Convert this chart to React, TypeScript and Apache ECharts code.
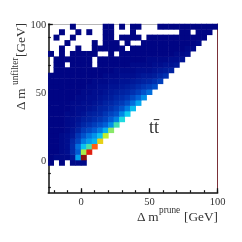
import React, { useEffect, useRef } from "react";
import * as echarts from "echarts";

const n = null;
const binLabels = Array.from({ length: 31 }, (_, i) => String(-24 + 4 * i));
const firstRowIndex = 5;
// Each row: colour level per 4 GeV bin, from x = -24 upward; rows go from y = -4 upward.
const levelRows: (number | null)[][] = [
  [1, n, 1, n, 2, 2, 2],
  [1, 2, 2, 2, 5, 30, 100],
  [1, 1, 2, 3, 9, 19, 58, 90],
  [1, 1, 2, 3, 9, 22, 36, 50, 80],
  [1, 1, 2, 3, 8, 14, 24, 29, 34, 68],
  [1, 1, 2, 3, 5, 11, 17, 23, 28, 36, 60],
  [1, 1, 1, 2, 4, 7, 12, 15, 19, 24, 33, 55],
  [1, 1, 1, 2, 3, 5, 8, 10, 13, 16, 20, 27, 48],
  [1, 1, 1, 2, 3, 4, 6, 7, 9, 11, 14, 19, 25, 42],
  [1, 1, 1, 2, 2, 3, 4, 6, 7, 8, 11, 14, 17, 26, 38],
  [1, 1, 1, 1, 2, 3, 3, 4, 5, 7, 8, 10, 13, 17, 24, 35],
  [1, 1, 1, 1, 2, 2, 3, 3, 4, 5, 7, 8, 10, 12, 16, 22, 31],
  [1, 1, 1, 1, 1, 2, 2, 3, 3, 4, 5, 6, 8, 9, 11, 15, 20, 27],
  [1, 1, 1, 1, 1, 1, 2, 2, 3, 3, 4, 5, 6, 7, 8, 10, 13, 17, 22],
  [1, 1, 1, 1, 1, 1, 1, 2, 2, 3, 3, 4, 4, 5, 6, 7, 9, 11, 13, 16],
  [1, 1, 1, 1, 1, 1, 1, 1, 2, 2, 2, 3, 3, 4, 4, 5, 6, 7, 8, 10, 13],
  [1, 1, 1, 1, 1, 1, 1, 1, 1, 1, 2, 2, 2, 3, 3, 3, 4, 5, 5, 6, 8, 10],
  [n, 1, 1, 1, 1, 1, 1, 1, 1, 1, 1, 1, 2, 2, 2, 2, 3, 3, 3, 4, 5, 6, 7],
  [n, 1, 1, n, 1, 1, 1, 1, n, 1, 1, 1, 1, 1, 1, 2, 2, 2, 2, 3, 3, 4, 4, 5],
  [n, 1, 1, 1, 1, 1, 1, 1, n, 1, 1, 1, 1, 1, 1, 1, 1, 1, 2, 2, 2, 2, 3, 3, 4],
  [1, n, 1, n, 1, 1, 1, 1, 1, n, n, 1, n, 1, 1, 1, 1, 1, 1, 1, 1, 1, 1, 2, 2, 3],
  [n, n, 1, n, n, 1, n, n, 1, 1, 1, 1, 1, 1, n, 1, 1, 1, 1, 1, 1, 1, 1, 1, 1, 2, 2],
  [n, n, n, 1, n, n, n, n, 1, n, 1, 1, 1, n, 1, n, n, 1, 1, 1, 1, 1, 1, 1, 1, 1, 1, 2],
  [n, 1, n, n, 1, n, n, n, n, n, 1, 1, n, 1, 1, 1, 1, n, 1, 1, 1, 1, 1, 1, 1, 1, 1, 1, 1],
  [n, n, 1, n, n, 1, n, 1, n, n, 1, 1, n, n, n, 1, n, n, n, n, n, n, n, n, 1, 1, n, 1, 1, 1],
  [n, n, n, n, 1, n, n, n, n, n, 1, 1, n, 1, n, 1, 1, n, n, n, 1, 1, 1, 1, 1, 1, 1, 1, 1, 1, 1],
];
const levelStops = ["#00007f", "#0030b0", "#0060d8", "#00a0f0", "#10d8f0", "#50e0a0", "#c0f030", "#f0c810", "#ff6010", "#e02010", "#8b0f10"];
const majorTicks = [0, 50, 100];
const minorTicks = [-20, -10, 0, 10, 20, 30, 40, 50, 60, 70, 80, 90, 100];
const axisMin = -24;
const axisMax = 100;

const serif = "'Liberation Serif', 'Times New Roman', serif";
const textColor = "#333";

export default function App() {
  const ref = useRef<HTMLDivElement>(null);
  useEffect(() => {
    const chart = echarts.init(ref.current!, undefined, { renderer: "svg" });
    const data: [number, number, number][] = [];
    levelRows.forEach((row, r) =>
      row.forEach((v, i) => {
        if (v !== null) data.push([i, r + firstRowIndex, v]);
      })
    );
    const hiddenCat = () => ({ type: "category" as const, data: binLabels, show: false });
    const valueBase = { type: "value" as const, min: axisMin, max: axisMax, splitLine: { show: false } };
    const black = { show: true, onZero: false, lineStyle: { color: "#111", width: 1.5 } };
    const labelStyle = { fontFamily: serif, fontSize: 10.5, color: textColor };
    const text = (t: string, x: number, y: number, size: number, rotation = 0) => ({
      type: "text" as const,
      x,
      y,
      rotation,
      style: { text: t, fontFamily: serif, fontSize: size, fill: textColor, textAlign: "left", textVerticalAlign: "middle" },
    });
    const up = Math.PI / 2;
    chart.setOption({
      animation: false,
      grid: { left: 48.3, right: 24.3, top: 24, bottom: 49.3 },
      visualMap: { show: false, min: 0, max: 100, seriesIndex: 0, inRange: { color: levelStops } },
      xAxis: [
        hiddenCat(),
        {
          ...valueBase,
          position: "bottom",
          axisLine: black,
          axisTick: { show: true, inside: true, length: 4.5, customValues: majorTicks, lineStyle: { color: "#111", width: 1.3 } },
          axisLabel: { show: true, margin: 3, customValues: majorTicks, ...labelStyle },
        },
        {
          ...valueBase,
          position: "bottom",
          axisLine: { show: false, onZero: false },
          axisTick: { show: true, inside: true, length: 2.5, customValues: minorTicks, lineStyle: { color: "#111", width: 1.2 } },
          axisLabel: { show: false },
        },
        {
          ...valueBase,
          position: "top",
          axisLine: { show: true, onZero: false, lineStyle: { color: "#999", width: 1, opacity: 0.7 } },
          axisTick: { show: false },
          axisLabel: { show: false },
        },
      ],
      yAxis: [
        hiddenCat(),
        {
          ...valueBase,
          position: "left",
          axisLine: black,
          axisTick: { show: true, inside: true, length: 4.5, customValues: majorTicks, lineStyle: { color: "#111", width: 1.3 } },
          axisLabel: { show: true, margin: 2, customValues: majorTicks, ...labelStyle },
        },
        {
          ...valueBase,
          position: "left",
          axisLine: { show: false, onZero: false },
          axisTick: { show: true, inside: true, length: 2.5, customValues: minorTicks, lineStyle: { color: "#111", width: 1.2 } },
          axisLabel: { show: false },
        },
        {
          ...valueBase,
          position: "right",
          axisLine: { show: true, onZero: false, lineStyle: { color: "#7a3038", width: 1 } },
          axisTick: { show: false },
          axisLabel: { show: false },
        },
      ],
      series: [
        { type: "heatmap", xAxisIndex: 0, yAxisIndex: 0, data, progressive: 0, itemStyle: { borderWidth: 0 } },
      ],
      graphic: [
        text("Δ m", 137, 216, 13.3),
        text("prune", 159, 210, 9.3),
        text("[GeV]", 184, 216, 13.3),
        text("Δ m", 20, 110, 13.3, up),
        text("unfilter", 15, 85, 9.3, up),
        text("[GeV]", 20, 57, 13.3, up),
        text("tt\u0304", 149, 127, 18),
      ],
    });
    return () => chart.dispose();
  }, []);
  return <div ref={ref} style={{ position: "fixed", left: 0, top: 0, width: 242, height: 242 }} />;
}
